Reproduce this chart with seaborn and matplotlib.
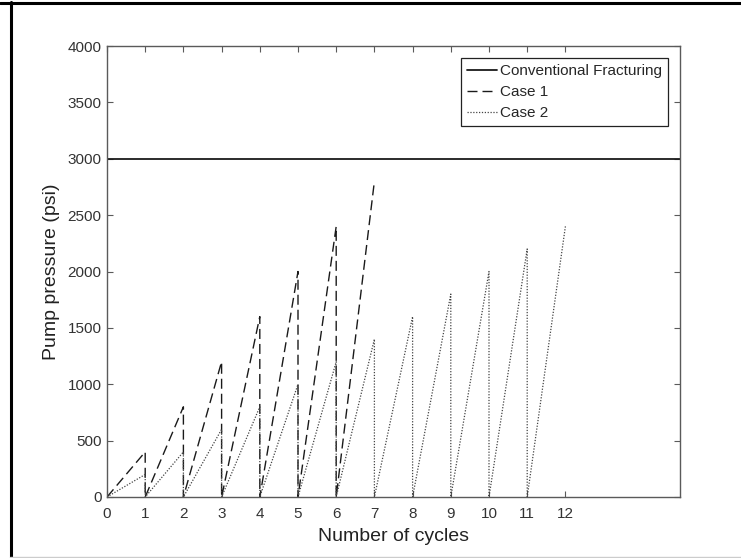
import matplotlib
matplotlib.use("Agg")
import matplotlib.pyplot as plt
from matplotlib.lines import Line2D
import pandas as pd
import seaborn as sns

# Pump pressure history per fracturing scheme
conventional_cycles = [0, 15]
conventional_pressure = [3000, 3000]

case1_cycles = [0, 1, 1, 2, 2, 3, 3, 4, 4, 5, 5, 6, 6, 7]
case1_pressure = [0, 400, 0, 800, 0, 1200, 0, 1600, 0, 2000, 0, 2400, 0, 2800]

case2_cycles = [0, 1, 1, 2, 2, 3, 3, 4, 4, 5, 5, 6, 6, 7, 7, 8, 8, 9, 9, 10, 10, 11, 11, 12]
case2_pressure = [0, 200, 0, 400, 0, 600, 0, 800, 0, 1000, 0, 1200, 0, 1400, 0,
                  1600, 0, 1800, 0, 2000, 0, 2200, 0, 2400]

series_labels = ["Conventional Fracturing", "Case 1", "Case 2"]
x_ticks = list(range(0, 13))
y_ticks = list(range(0, 4001, 500))

sns.set_theme(style="ticks")
plt.rcParams["font.family"] = ["Liberation Sans", "DejaVu Sans"]

frames = []
for label, xs, ys in zip(series_labels,
                         [conventional_cycles, case1_cycles, case2_cycles],
                         [conventional_pressure, case1_pressure, case2_pressure]):
    frames.append(pd.DataFrame({"cycle": xs, "pressure": ys, "series": label}))
data = pd.concat(frames, ignore_index=True)

fig = plt.figure(figsize=(7.41, 5.58), dpi=100)
ax = fig.add_axes([107 / 741, 61 / 558, (680 - 107) / 741, (497 - 46) / 558])

styles = {
    "Conventional Fracturing": dict(color="#1a1a1a", linewidth=1.3, linestyle="-"),
    "Case 1": dict(color="#1a1a1a", linewidth=1.0, linestyle=(0, (7.2, 3.6))),
    "Case 2": dict(color="#444444", linewidth=0.9, linestyle=(0, (1, 1.3))),
}

for label in series_labels:
    sub = data[data["series"] == label]
    sns.lineplot(data=sub, x="cycle", y="pressure", ax=ax, sort=False,
                 estimator=None, label=label, **styles[label])

ax.set_xlim(0, 15)
ax.set_ylim(0, 4000)
ax.set_xticks(x_ticks)
ax.set_xticklabels([str(t) for t in x_ticks])
ax.set_yticks(y_ticks)
ax.set_yticklabels([str(t) for t in y_ticks])

spine_color = "#5a5a5a"
for s in ax.spines.values():
    s.set_visible(True)
    s.set_color(spine_color)
    s.set_linewidth(1.0)

ax.tick_params(axis="both", which="major", direction="in", length=4, width=0.8,
               color=spine_color, labelsize=11, labelcolor="#333333",
               top=True, right=True)
ax.tick_params(axis="x", pad=7)
ax.tick_params(axis="y", pad=4)

ax.set_xlabel("Number of cycles", fontsize=14, color="#222222", labelpad=5)
ax.set_ylabel("Pump pressure (psi)", fontsize=14, color="#222222", labelpad=5)

leg = ax.legend(loc="upper right", fontsize=11, frameon=True, fancybox=False,
                edgecolor="#222222", framealpha=1, handlelength=1.96,
                handletextpad=0.15, borderaxespad=0.8, borderpad=0.4,
                labelspacing=0.45)
leg.get_frame().set_linewidth(0.9)

# Figure frame: heavy top and left edges, faint bottom edge
fig.add_artist(Line2D([0, 1], [1 - 3 / 558, 1 - 3 / 558], transform=fig.transFigure,
                      color="black", linewidth=2.2))
fig.add_artist(Line2D([10.5 / 741, 10.5 / 741], [0, 1 - 2 / 558], transform=fig.transFigure,
                      color="black", linewidth=2.2))
fig.add_artist(Line2D([10 / 741, 1], [1 / 558, 1 / 558], transform=fig.transFigure,
                      color="#cccccc", linewidth=1.0))

fig.savefig("out.png", dpi=100)
